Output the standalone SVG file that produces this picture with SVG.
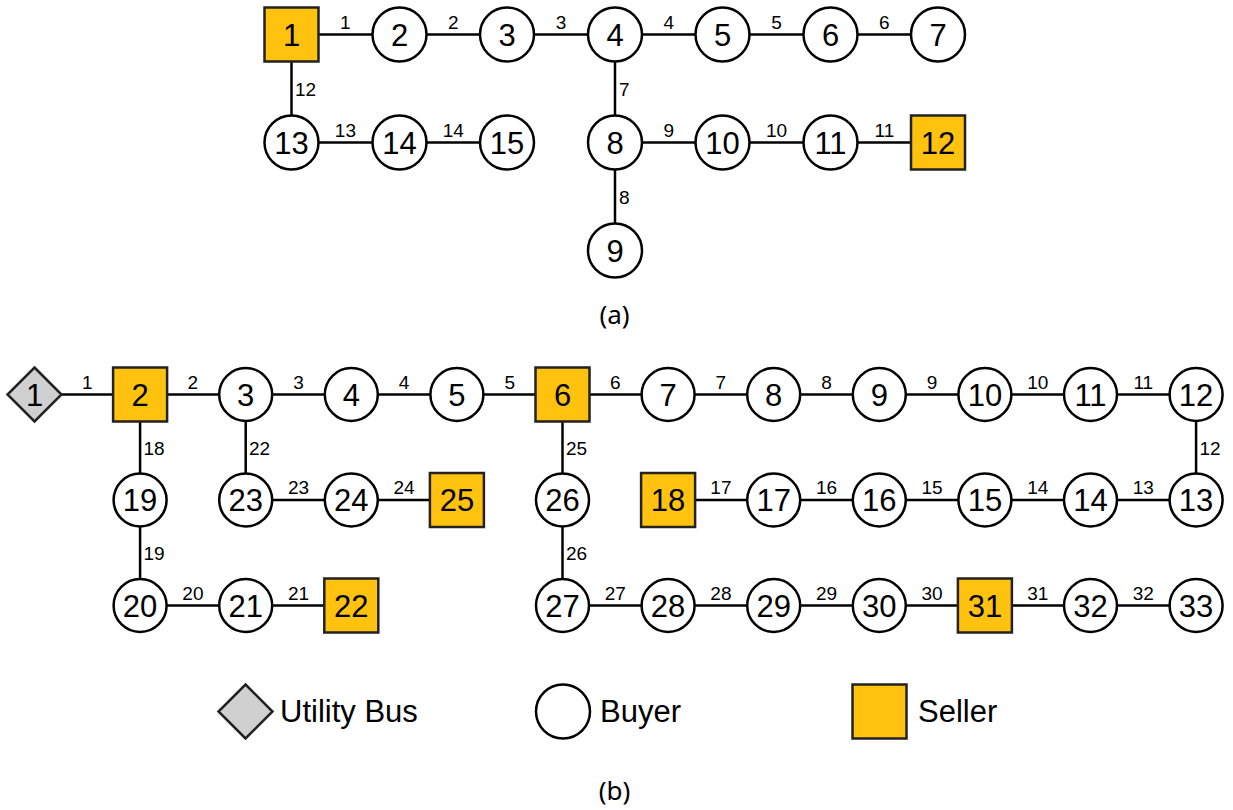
<svg xmlns="http://www.w3.org/2000/svg" width="1233" height="810" viewBox="0 0 1233 810">
<defs>
<style>
.e{stroke:#000;stroke-width:2.5;fill:none}
.c{fill:#fff;stroke:#000;stroke-width:2.5}
.s{fill:#FFC20E;stroke:#222;stroke-width:2.5}
.d{fill:#D0D0D0;stroke:#222;stroke-width:2.5}
.n{font-family:"Liberation Sans",Arial,sans-serif;font-size:31px;text-anchor:middle;fill:#000}
.l{font-family:"Liberation Sans",Arial,sans-serif;font-size:19px;fill:#000}
.h{text-anchor:middle}
.g{font-family:"Liberation Sans",Arial,sans-serif;font-size:31px;fill:#000}
.cap{font-family:"Noto Sans","DejaVu Sans",sans-serif;font-size:26px;text-anchor:middle;fill:#000}
</style>
</defs>
<rect width="1233" height="810" fill="#fff"/>
<g id="connectors">
<line class="e" x1="291.5" y1="34.5" x2="938" y2="34.5"/>
<line class="e" x1="291.5" y1="34.5" x2="291.5" y2="142.5"/>
<line class="e" x1="291.5" y1="142.5" x2="507" y2="142.5"/>
<line class="e" x1="615" y1="34.5" x2="615" y2="250.5"/>
<line class="e" x1="615" y1="142.5" x2="938" y2="142.5"/>
<line class="e" x1="34.5" y1="394.5" x2="1196.1" y2="394.5"/>
<line class="e" x1="1196.1" y1="394.5" x2="1196.1" y2="500"/>
<line class="e" x1="668.1" y1="500" x2="1196.1" y2="500"/>
<line class="e" x1="140.1" y1="394.5" x2="140.1" y2="605.5"/>
<line class="e" x1="140.1" y1="605.5" x2="351.3" y2="605.5"/>
<line class="e" x1="245.7" y1="394.5" x2="245.7" y2="500"/>
<line class="e" x1="245.7" y1="500" x2="456.9" y2="500"/>
<line class="e" x1="562.5" y1="394.5" x2="562.5" y2="605.5"/>
<line class="e" x1="562.5" y1="605.5" x2="1196.1" y2="605.5"/>
<g class="l h">
<text x="345.4" y="28.5">1</text><text x="453.2" y="28.5">2</text><text x="561" y="28.5">3</text><text x="668.8" y="28.5">4</text><text x="776.6" y="28.5">5</text><text x="884.4" y="28.5">6</text>
<text x="668.8" y="136.5">9</text><text x="776.6" y="136.5">10</text><text x="884.4" y="136.5">11</text>
<text x="345.4" y="136.5">13</text><text x="453.2" y="136.5">14</text>
<text x="87.3" y="388.5">1</text><text x="192.9" y="388.5">2</text><text x="298.5" y="388.5">3</text><text x="404.1" y="388.5">4</text><text x="509.7" y="388.5">5</text><text x="615.3" y="388.5">6</text><text x="720.9" y="388.5">7</text><text x="826.5" y="388.5">8</text><text x="932.1" y="388.5">9</text><text x="1037.7" y="388.5">10</text><text x="1143.3" y="388.5">11</text>
<text x="1143.3" y="494">13</text><text x="1037.7" y="494">14</text><text x="932.1" y="494">15</text><text x="826.5" y="494">16</text><text x="720.9" y="494">17</text><text x="298.5" y="494">23</text><text x="404.1" y="494">24</text>
<text x="192.9" y="599.5">20</text><text x="298.5" y="599.5">21</text><text x="615.3" y="599.5">27</text><text x="720.9" y="599.5">28</text><text x="826.5" y="599.5">29</text><text x="932.1" y="599.5">30</text><text x="1037.7" y="599.5">31</text><text x="1143.3" y="599.5">32</text>
</g>
<g class="l">
<text x="295" y="96">12</text><text x="619" y="96">7</text><text x="619" y="204">8</text>
<text x="1199.5" y="454.5">12</text><text x="143.5" y="454.5">18</text><text x="143.5" y="560">19</text><text x="249" y="454.5">22</text><text x="566" y="454.5">25</text><text x="566" y="560">26</text>
</g>
</g>
<g id="a1"><rect class="s" x="264.5" y="7.5" width="54" height="54"/><text class="n" x="291.5" y="45.5">1</text></g>
<g id="a2"><circle class="c" cx="399.5" cy="34.5" r="27"/><text class="n" x="399.5" y="45.5">2</text></g>
<g id="a3"><circle class="c" cx="507" cy="34.5" r="27"/><text class="n" x="507" y="45.5">3</text></g>
<g id="a4"><circle class="c" cx="615" cy="34.5" r="27"/><text class="n" x="615" y="45.5">4</text></g>
<g id="a5"><circle class="c" cx="722.5" cy="34.5" r="27"/><text class="n" x="722.5" y="45.5">5</text></g>
<g id="a6"><circle class="c" cx="830.5" cy="34.5" r="27"/><text class="n" x="830.5" y="45.5">6</text></g>
<g id="a7"><circle class="c" cx="938" cy="34.5" r="27"/><text class="n" x="938" y="45.5">7</text></g>
<g id="a13"><circle class="c" cx="291.5" cy="142.5" r="27"/><text class="n" x="291.5" y="153.5">13</text></g>
<g id="a14"><circle class="c" cx="399.5" cy="142.5" r="27"/><text class="n" x="399.5" y="153.5">14</text></g>
<g id="a15"><circle class="c" cx="507" cy="142.5" r="27"/><text class="n" x="507" y="153.5">15</text></g>
<g id="a8"><circle class="c" cx="615" cy="142.5" r="27"/><text class="n" x="615" y="153.5">8</text></g>
<g id="a10"><circle class="c" cx="722.5" cy="142.5" r="27"/><text class="n" x="722.5" y="153.5">10</text></g>
<g id="a11"><circle class="c" cx="830.5" cy="142.5" r="27"/><text class="n" x="830.5" y="153.5">11</text></g>
<g id="a12"><rect class="s" x="911" y="115.5" width="54" height="54"/><text class="n" x="938" y="153.5">12</text></g>
<g id="a9"><circle class="c" cx="615" cy="250.5" r="27"/><text class="n" x="615" y="261.5">9</text></g>
<text class="cap" x="614.5" y="324">(a)</text>
<g id="b1"><polygon class="d" points="34.5,367.5 61.5,394.5 34.5,421.5 7.5,394.5"/><text class="n" x="34.5" y="405.5">1</text></g>
<g id="b2"><rect class="s" x="113.1" y="367.5" width="54" height="54"/><text class="n" x="140.1" y="405.5">2</text></g>
<g id="b3"><circle class="c" cx="245.7" cy="394.5" r="26.5"/><text class="n" x="245.7" y="405.5">3</text></g>
<g id="b4"><circle class="c" cx="351.3" cy="394.5" r="26.5"/><text class="n" x="351.3" y="405.5">4</text></g>
<g id="b5"><circle class="c" cx="456.9" cy="394.5" r="26.5"/><text class="n" x="456.9" y="405.5">5</text></g>
<g id="b6"><rect class="s" x="535.5" y="367.5" width="54" height="54"/><text class="n" x="562.5" y="405.5">6</text></g>
<g id="b7"><circle class="c" cx="668.1" cy="394.5" r="26.5"/><text class="n" x="668.1" y="405.5">7</text></g>
<g id="b8"><circle class="c" cx="773.7" cy="394.5" r="26.5"/><text class="n" x="773.7" y="405.5">8</text></g>
<g id="b9"><circle class="c" cx="879.3" cy="394.5" r="26.5"/><text class="n" x="879.3" y="405.5">9</text></g>
<g id="b10"><circle class="c" cx="984.9" cy="394.5" r="26.5"/><text class="n" x="984.9" y="405.5">10</text></g>
<g id="b11"><circle class="c" cx="1090.5" cy="394.5" r="26.5"/><text class="n" x="1090.5" y="405.5">11</text></g>
<g id="b12"><circle class="c" cx="1196.1" cy="394.5" r="26.5"/><text class="n" x="1196.1" y="405.5">12</text></g>
<g id="b19"><circle class="c" cx="140.1" cy="500" r="26.5"/><text class="n" x="140.1" y="511">19</text></g>
<g id="b23"><circle class="c" cx="245.7" cy="500" r="26.5"/><text class="n" x="245.7" y="511">23</text></g>
<g id="b24"><circle class="c" cx="351.3" cy="500" r="26.5"/><text class="n" x="351.3" y="511">24</text></g>
<g id="b25"><rect class="s" x="429.9" y="473" width="54" height="54"/><text class="n" x="456.9" y="511">25</text></g>
<g id="b26"><circle class="c" cx="562.5" cy="500" r="26.5"/><text class="n" x="562.5" y="511">26</text></g>
<g id="b18"><rect class="s" x="641.1" y="473" width="54" height="54"/><text class="n" x="668.1" y="511">18</text></g>
<g id="b17"><circle class="c" cx="773.7" cy="500" r="26.5"/><text class="n" x="773.7" y="511">17</text></g>
<g id="b16"><circle class="c" cx="879.3" cy="500" r="26.5"/><text class="n" x="879.3" y="511">16</text></g>
<g id="b15"><circle class="c" cx="984.9" cy="500" r="26.5"/><text class="n" x="984.9" y="511">15</text></g>
<g id="b14"><circle class="c" cx="1090.5" cy="500" r="26.5"/><text class="n" x="1090.5" y="511">14</text></g>
<g id="b13"><circle class="c" cx="1196.1" cy="500" r="26.5"/><text class="n" x="1196.1" y="511">13</text></g>
<g id="b20"><circle class="c" cx="140.1" cy="605.5" r="26.5"/><text class="n" x="140.1" y="616.5">20</text></g>
<g id="b21"><circle class="c" cx="245.7" cy="605.5" r="26.5"/><text class="n" x="245.7" y="616.5">21</text></g>
<g id="b22"><rect class="s" x="324.3" y="578.5" width="54" height="54"/><text class="n" x="351.3" y="616.5">22</text></g>
<g id="b27"><circle class="c" cx="562.5" cy="605.5" r="26.5"/><text class="n" x="562.5" y="616.5">27</text></g>
<g id="b28"><circle class="c" cx="668.1" cy="605.5" r="26.5"/><text class="n" x="668.1" y="616.5">28</text></g>
<g id="b29"><circle class="c" cx="773.7" cy="605.5" r="26.5"/><text class="n" x="773.7" y="616.5">29</text></g>
<g id="b30"><circle class="c" cx="879.3" cy="605.5" r="26.5"/><text class="n" x="879.3" y="616.5">30</text></g>
<g id="b31"><rect class="s" x="957.9" y="578.5" width="54" height="54"/><text class="n" x="984.9" y="616.5">31</text></g>
<g id="b32"><circle class="c" cx="1090.5" cy="605.5" r="26.5"/><text class="n" x="1090.5" y="616.5">32</text></g>
<g id="b33"><circle class="c" cx="1196.1" cy="605.5" r="26.5"/><text class="n" x="1196.1" y="616.5">33</text></g>
<g id="legend">
<polygon class="d" points="245.5,684.5 272.5,711.5 245.5,738.5 218.5,711.5"/>
<text class="g" x="280" y="722">Utility Bus</text>
<circle class="c" cx="563" cy="711.5" r="27"/>
<text class="g" x="600" y="722">Buyer</text>
<rect class="s" x="852.5" y="684.5" width="54" height="54"/>
<text class="g" x="918" y="722">Seller</text>
</g>
<text class="cap" x="614.5" y="800">(b)</text>
</svg>
